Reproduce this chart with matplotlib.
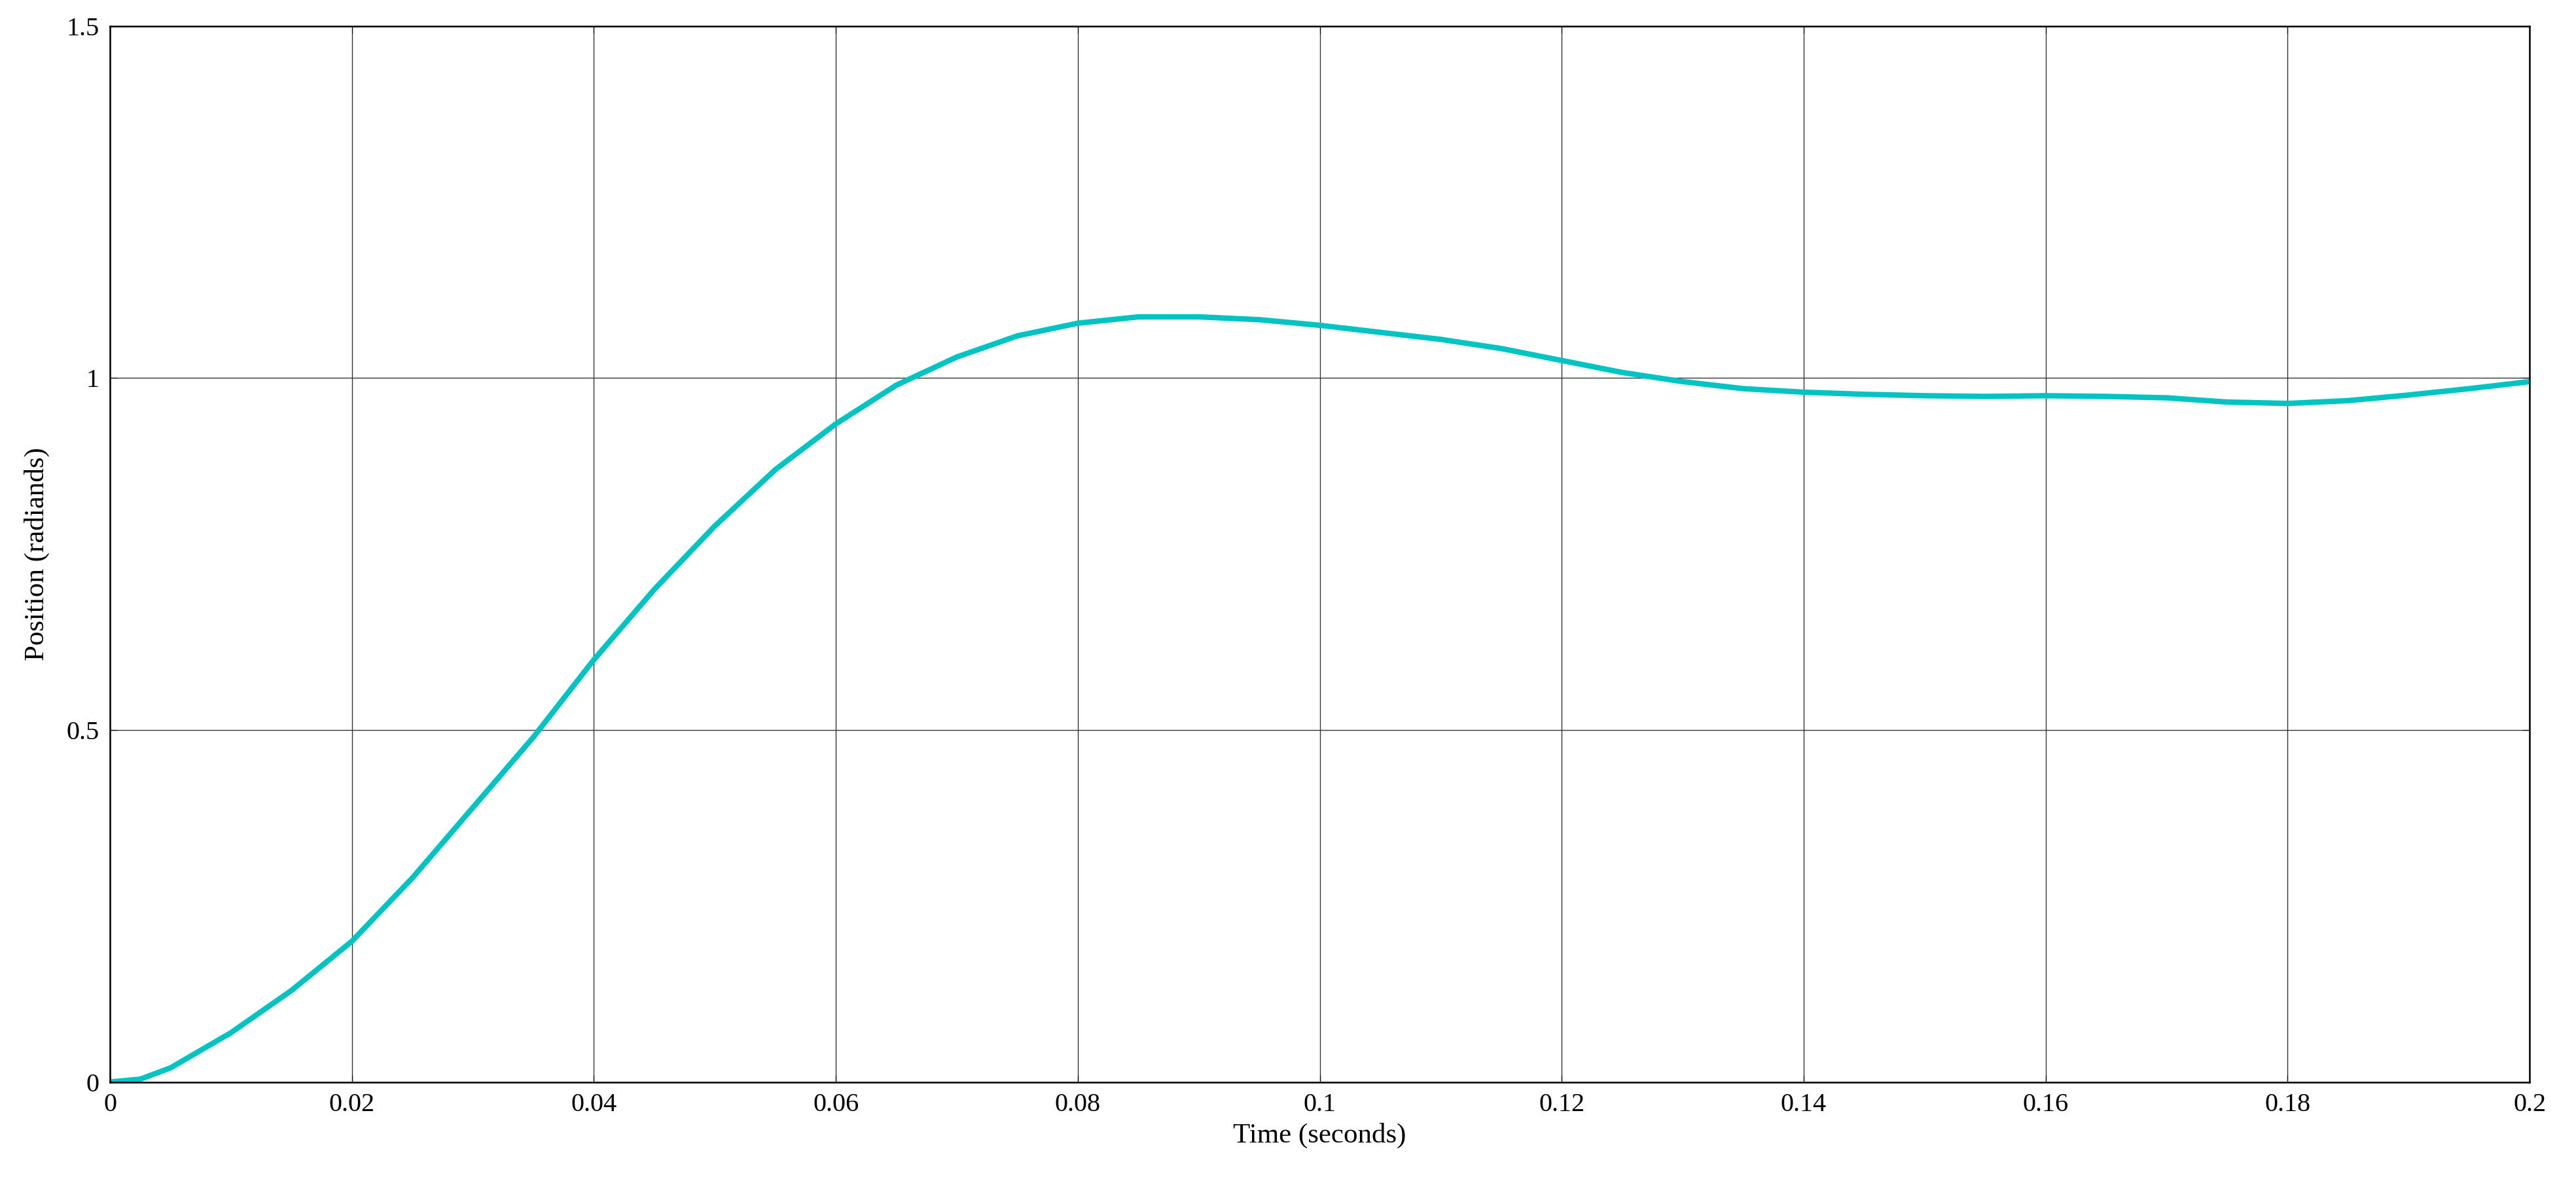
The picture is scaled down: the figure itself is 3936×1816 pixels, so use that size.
import matplotlib.pyplot as plt
import numpy as np

plt.rcParams['font.family'] = ['Liberation Serif', 'DejaVu Serif']

# Valores
tempo = [0, 0.0025, 0.005, 0.01, 0.015, 0.02, 0.025, 0.03, 0.035, 0.04, 0.045, 0.05, 0.055,
         0.06, 0.065, 0.07, 0.075, 0.08, 0.085, 0.09, 0.095, 0.1, 0.105, 0.11,
         0.115, 0.12, 0.125, 0.13, 0.135, 0.14, 0.145, 0.15, 0.155, 0.16,
         0.165, 0.17, 0.175, 0.18, 0.185, 0.19, 0.195, 0.2]
posicao = [0, 0.004, 0.02, 0.07, 0.13, 0.2, 0.29, 0.39, 0.49, 0.6, 0.7, 0.79, 0.87,
           0.935, 0.99, 1.03, 1.06, 1.078, 1.087, 1.087, 1.083, 1.075, 1.065, 1.055,
           1.042, 1.025, 1.008, 0.995, 0.985, 0.98, 0.977, 0.975, 0.974, 0.975,
           0.974, 0.972, 0.966, 0.964, 0.968, 0.976, 0.985, 0.995]

fig = plt.figure(figsize=(39.36, 18.16), dpi=100)
ax = fig.add_axes([0.0427, 0.09, 0.9393, 0.888])
ax.plot(tempo, posicao, color='#00C4C4', linewidth=6, solid_joinstyle='round', solid_capstyle='round')

ax.set_xlim(0, 0.2)
ax.set_ylim(0, 1.5)
ax.set_xticks(np.arange(0, 0.2001, 0.02))
ax.set_xticklabels(['0', '0.02', '0.04', '0.06', '0.08', '0.1', '0.12', '0.14', '0.16', '0.18', '0.2'])
ax.set_yticks([0, 0.5, 1, 1.5])
ax.set_yticklabels(['0', '0.5', '1', '1.5'])
ax.tick_params(labelsize=29, direction='in', length=8, pad=12, top=True, right=True)
ax.grid(True, color='#333333', linewidth=1.0)
for s in ax.spines.values():
    s.set_linewidth(1.8)

ax.set_xlabel('Time (seconds)', fontsize=31, labelpad=6)
ax.set_ylabel('Position (radiands)', fontsize=31, labelpad=18)

plt.savefig('out.png', dpi=100)
